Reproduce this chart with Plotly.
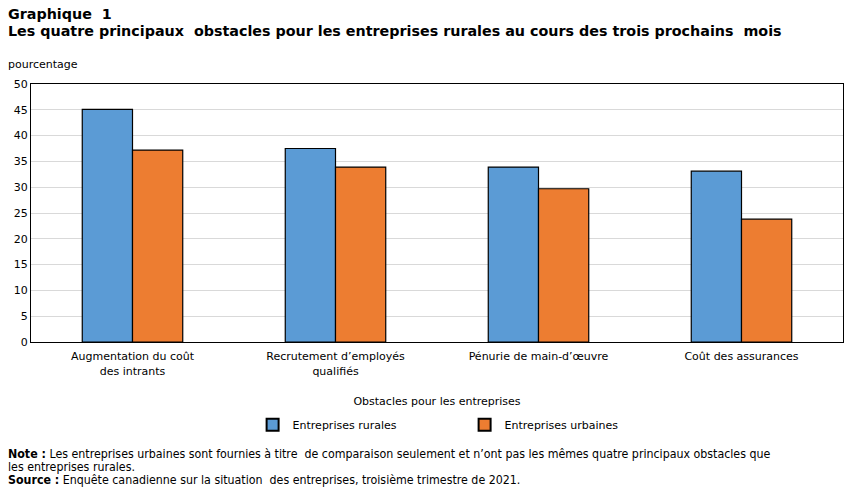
import plotly.graph_objects as go

categories = ["Augmentation du coût<br>des intrants", "Recrutement d’employés<br>qualifiés",
              "Pénurie de main-d’œuvre", "Coût des assurances"]
rural = [45.1, 37.5, 33.9, 33.1]
urbain = [37.2, 33.9, 29.7, 23.8]
y_ticks = [0, 5, 10, 15, 20, 25, 30, 35, 40, 45, 50]

FONT = "Verdana, DejaVu Sans, sans-serif"

fig = go.Figure()
fig.add_trace(go.Bar(name="Entreprises rurales", x=categories, y=rural,
                     marker=dict(color="#5B9BD5", line=dict(color="black", width=1.2))))
fig.add_trace(go.Bar(name="Entreprises urbaines", x=categories, y=urbain,
                     marker=dict(color="#ED7D31", line=dict(color="black", width=1.2))))

fig.update_layout(
    width=851, height=492,
    margin=dict(l=31, r=8, t=84, b=150),
    paper_bgcolor="white", plot_bgcolor="white",
    font=dict(family=FONT, size=11, color="black"),
    barmode="group", bargap=0.505, bargroupgap=0,
    showlegend=True,
    legend=dict(orientation="h", x=0.534, xanchor="center", y=-0.265, yanchor="top",
                entrywidth=167, entrywidthmode="pixels", itemsizing="constant",
                font=dict(size=11), traceorder="normal"),
    xaxis=dict(showline=True, linecolor="black", linewidth=1, mirror=True,
               ticks="", tickfont=dict(size=11), ticklabelstandoff=4,
               title=dict(text="Obstacles pour les entreprises", font=dict(size=11), standoff=20)),
    yaxis=dict(range=[0, 50], tickvals=y_ticks, showline=True, linecolor="black", linewidth=1,
               mirror=True, showgrid=True, gridcolor="#d9d9d9", gridwidth=1,
               ticks="", tickfont=dict(size=11), zeroline=False),
)

fig.add_annotation(text="<b>Graphique  1</b>", xref="paper", yref="paper", x=0, xshift=-25,
                   y=1, yshift=80, xanchor="left", yanchor="top", showarrow=False,
                   font=dict(size=14.3, family=FONT), align="left")
fig.add_annotation(text="<b>Les quatre principaux  obstacles pour les entreprises rurales au cours des trois prochains  mois</b>",
                   xref="paper", yref="paper", x=0, xshift=-25, y=1, yshift=63,
                   xanchor="left", yanchor="top", showarrow=False,
                   font=dict(size=14.3, family=FONT), align="left")
fig.add_annotation(text="pourcentage", xref="paper", yref="paper", x=0, xshift=-25,
                   y=1, yshift=28, xanchor="left", yanchor="top", showarrow=False,
                   font=dict(size=11, family=FONT))

NOTE_FONT = "DejaVu Sans Condensed, Liberation Sans Narrow, sans-serif"
note_lines = [
    "<b>Note :</b> Les entreprises urbaines sont fournies à titre  de comparaison seulement et n’ont pas les mêmes quatre principaux obstacles que",
    "les entreprises rurales.",
    "<b>Source :</b> Enquête canadienne sur la situation  des entreprises, troisième trimestre de 2021.",
]
for i, line in enumerate(note_lines):
    fig.add_annotation(text=line, xref="paper", yref="paper", x=0, xshift=-25,
                       y=0, yshift=-103 - 13 * i,
                       xanchor="left", yanchor="top", showarrow=False, align="left",
                       font=dict(size=12.3, family=NOTE_FONT))

fig.write_html("out.html")
